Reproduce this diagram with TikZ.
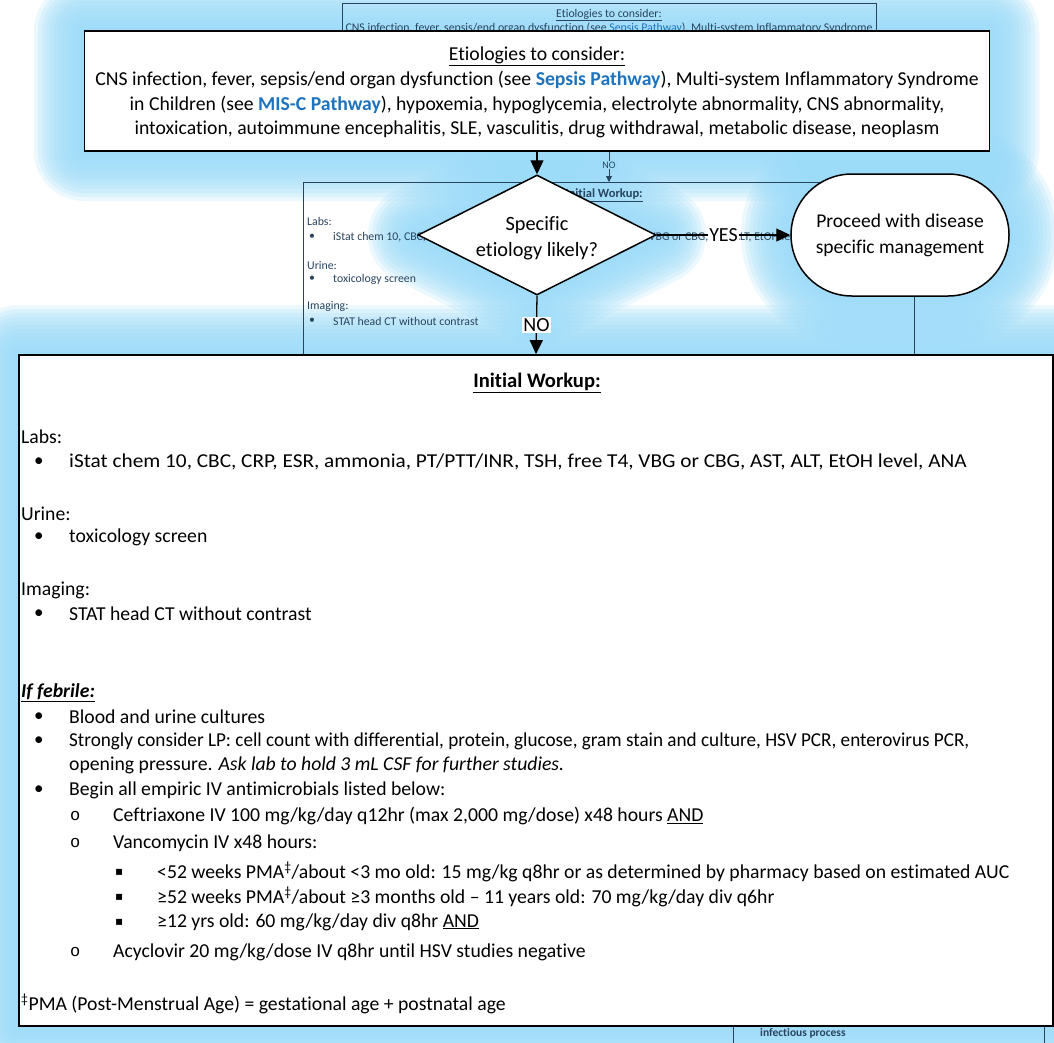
\documentclass[tikz,border=0pt]{standalone}
\usepackage{fontspec}
\usepackage{graphicx}
\setmainfont{Carlito}[Ligatures=CommonOff]
\newfontfamily\symfont{DejaVu Sans}
\newfontfamily\courfont{Liberation Mono}
\usetikzlibrary{arrows.meta,shapes.geometric}
\definecolor{glowc}{RGB}{156,220,249}
\definecolor{linkc}{RGB}{30,115,190}
\definecolor{minic}{RGB}{40,68,95}
\newcommand{\lnk}[1]{\textcolor{linkc}{\bfseries #1}}

% soft halo around a rectangle: x1 y1 x2 y2 corner
\newcommand{\halobox}[5]{%
  \foreach \r in {2,6,...,50}{%
    \fill[glowc,opacity=0.2,rounded corners={#5+\r}] (#1-\r,#2-\r) rectangle (#3+\r,#4+\r);}}
% soft halo around a rhombus: cx cy half-width half-height
\newcommand{\halodiamond}[4]{%
  \foreach \r in {2,6,...,50}{%
    \begin{scope}[transparency group, opacity=0.2]
      \filldraw[glowc, line width={2*\r}, line join=round]
        (#1-#3,#2) -- (#1,#2-#4) -- (#1+#3,#2) -- (#1,#2+#4) -- cycle;
    \end{scope}}}

\tikzset{
  fgbox/.style={draw=black, line width=1.8pt, fill=white, inner sep=0pt},
  arr/.style={line width=1.3pt, -{Triangle[length=14pt,width=13pt]}},
  lbl/.style={fill=white, inner sep=1.5pt, font=\fontsize{20}{22}\selectfont},
  bodytxt/.style={anchor=west, inner sep=0pt, font=\fontsize{19.7}{23}\selectfont},
  bul/.style={anchor=west, inner sep=0pt, font=\fontsize{19}{23}\selectfont},
  ring/.style={anchor=west, inner sep=0pt, font=\courfont\fontsize{17}{20}\selectfont},
  sqb/.style={anchor=west, inner sep=0pt, font=\symfont\fontsize{12}{14}\selectfont},
  minitxt/.style={text=minic, inner sep=0pt, font=\fontsize{11.8}{13}\selectfont},
  miniline/.style={draw=minic, line width=0.9pt},
}

\begin{document}
\begin{tikzpicture}[x=1pt,y=-1pt]
\useasboundingbox (0,0) rectangle (1054,1042);
\clip (0,0) rectangle (1054,1042);
\fill[white] (0,0) rectangle (1054,1042);

% halos behind the shapes
\halobox{84}{31}{989}{151}{0}
\halodiamond{537}{235}{119}{60}
\halobox{791}{174}{1009}{296}{61}
\halobox{19}{355}{1053}{1026}{0}

% reduced copy of the pathway in the background
\node[miniline, minimum width=534pt, minimum height=60pt, anchor=north west, inner sep=0pt] (mtop) at (342,3) {};
\node[minitxt] (mtoptitle) at (609,15) {\underline{Etiologies to consider:}};
\node[minitxt] (mtopline) at (609,28) {CNS infection, fever, sepsis/end organ dysfunction (see \textcolor{linkc}{Sepsis Pathway}), Multi-system Inflammatory Syndrome};
\node[miniline, minimum width=611pt, minimum height=260pt, anchor=north west, inner sep=0pt] (mwork) at (303,182) {};
\draw[minic, line width=0.9pt, -{Triangle[length=6pt,width=6pt]}] (mtop.south -| 609,0) -- node[pos=0.857, fill=glowc, inner sep=1pt, text=minic, font=\fontsize{10}{11}\selectfont] (mno) {NO} (mwork.north -| 609,0);
\node[minitxt, font=\bfseries\fontsize{12.5}{13}\selectfont] (mwtitle) at (604,195) {\underline{Initial Workup:}};
\node[minitxt, anchor=west] (mlabs) at (307,221) {Labs:};
\node[minitxt, anchor=west] (mb1) at (309,237) {•};
\node[minitxt, anchor=west] (mlabsl) at (333,237) {iStat chem 10, CBC, CRP, ESR, ammonia, PT/PTT/INR, TSH, free T4, VBG or CBG, AST, ALT, EtOH level, ANA};
\node[minitxt, anchor=west] (murine) at (307,265) {Urine:};
\node[minitxt, anchor=west] (mb2) at (309,279) {•};
\node[minitxt, anchor=west] (mtox) at (333,279) {toxicology screen};
\node[minitxt, anchor=west] (mimg) at (307,306) {Imaging:};
\node[minitxt, anchor=west] (mb3) at (309,321) {•};
\node[minitxt, anchor=west] (mct) at (333,321) {STAT head CT without contrast};
\node[miniline, minimum width=311pt, minimum height=120pt, anchor=north west, inner sep=0pt] (mlow) at (733,990) {};
\node[minitxt, anchor=west, font=\bfseries\fontsize{11.5}{13}\selectfont] (minf) at (760,1033) {infectious process};

% foreground pathway
\node[fgbox, minimum width=905pt, minimum height=120pt] (etio) at (537,91) {};
\node[inner sep=0pt, align=center, font=\fontsize{19.7}{24.7}\selectfont] (etiotxt) at (537,92.5)
  {\underline{Etiologies to consider:}\\
   CNS infection, fever, sepsis/end organ dysfunction (see \lnk{Sepsis Pathway}), Multi-system Inflammatory Syndrome\\
   in Children (see \lnk{MIS-C Pathway}), hypoxemia, hypoglycemia, electrolyte abnormality, CNS abnormality,\\
   intoxication, autoimmune encephalitis, SLE, vasculitis, drug withdrawal, metabolic disease, neoplasm};

\node[diamond, draw=black, line width=1.5pt, fill=white, aspect=2, inner sep=0pt,
      minimum width=238pt, minimum height=120pt] (spec) at (537,235) {};
\node[inner sep=0pt, align=center, font=\fontsize{20.3}{26}\selectfont] (spectxt) at (537,238) {Specific\\etiology likely?};

\node[draw=black, line width=1.5pt, fill=white, rounded corners=61pt, inner sep=0pt,
      minimum width=218pt, minimum height=122pt, align=center,
      font=\fontsize{19.5}{26}\selectfont] (proc) at (900,235) {Proceed with disease\\specific management};

\node[fgbox, minimum width=1034pt, minimum height=671pt] (work) at (536,690.5) {};

\draw[arr] (etio.south) -- (spec.north);
\draw[arr] (spec.east) -- node[lbl] (yes) {YES} (proc.west);
\draw[arr] (spec.south) -- node[lbl] (no) {NO} (work.north);

% workup contents
\node[bodytxt, anchor=center, font=\bfseries\fontsize{20.6}{23}\selectfont] (wtitle) at (537,383) {\underline{Initial Workup:}};
\node[bodytxt] (labs) at (21,437) {Labs:};
\node[bul] (b1) at (34,462) {•};
\node[bodytxt] (labsl) at (69,462) {\scalebox{1.08}[1]{iStat chem 10, CBC, CRP, ESR, ammonia, PT/PTT/INR, TSH, free T4, VBG or CBG, AST, ALT, EtOH level, ANA}};
\node[bodytxt] (urine) at (21,514) {Urine:};
\node[bul] (b2) at (34,537) {•};
\node[bodytxt] (tox) at (69,537) {toxicology screen};
\node[bodytxt] (imaging) at (21,590) {Imaging:};
\node[bul] (b3) at (34,614) {•};
\node[bodytxt] (ct) at (69,614) {STAT head CT without contrast};
\node[bodytxt, font=\bfseries\itshape\fontsize{19.7}{23}\selectfont] (feb) at (21,693) {\underline{If febrile:}};
\node[bul] (b4) at (34,717) {•};
\node[bodytxt] (cult) at (69,717) {Blood and urine cultures};
\node[bul] (b5) at (34,741) {•};
\node[bodytxt] (lp) at (69,741) {\scalebox{0.973}[1]{Strongly consider LP: cell count with differential, protein, glucose, gram stain and culture, HSV PCR, enterovirus PCR,}};
\node[bodytxt] (lp2) at (69,765) {opening pressure. \textit{Ask lab to hold 3 mL CSF for further studies.}};
\node[bul] (b6) at (34,790) {•};
\node[bodytxt] (abx) at (69,790) {Begin all empiric IV antimicrobials listed below:};
\node[ring] (o1) at (70,816) {o};
\node[bodytxt] (ceft) at (113,816) {Ceftriaxone IV 100 mg/kg/day q12hr (max 2,000 mg/dose) x48 hours \underline{AND}};
\node[ring] (o2) at (70,843) {o};
\node[bodytxt] (vanc) at (113,843) {Vancomycin IV x48 hours:};
\node[sqb] (s1) at (115,872) {▪};
\node[bodytxt] (v1) at (157,872) {<52 weeks PMA\textsuperscript{‡}/about <3 mo old: 15 mg/kg q8hr or as determined by pharmacy based on estimated AUC};
\node[sqb] (s2) at (115,897) {▪};
\node[bodytxt] (v2) at (157,897) {≥52 weeks PMA\textsuperscript{‡}/about ≥3 months old – 11 years old: 70 mg/kg/day div q6hr};
\node[sqb] (s3) at (115,922) {▪};
\node[bodytxt] (v3) at (157,922) {≥12 yrs old: 60 mg/kg/day div q8hr \underline{AND}};
\node[ring] (o3) at (70,952) {o};
\node[bodytxt] (acy) at (113,952) {Acyclovir 20 mg/kg/dose IV q8hr until HSV studies negative};
\node[bodytxt] (pma) at (21,1004) {\textsuperscript{‡}PMA (Post-Menstrual Age) = gestational age + postnatal age};
\end{tikzpicture}
\end{document}
